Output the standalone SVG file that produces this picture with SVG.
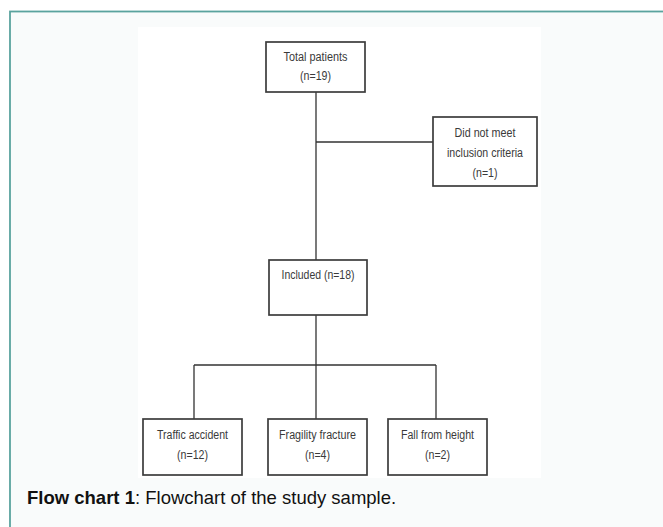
<svg xmlns="http://www.w3.org/2000/svg" width="663" height="527" viewBox="0 0 663 527">
<style>
.box{fill:#fff;stroke:#3c3c3c;stroke-width:1.7}
.lbl{font-family:"Liberation Sans",Arial,sans-serif;font-size:12.5px;fill:#3a3a3a;text-anchor:middle}
.conn{stroke:#333;stroke-width:1.3;fill:none}
.cap{font-family:"Liberation Sans",Arial,sans-serif;font-size:18.5px;fill:#111}
</style>
<rect x="0" y="0" width="663" height="527" fill="#fff"/>
<rect x="10" y="11.5" width="670" height="530" fill="#f9fbfb" stroke="#5aa39e" stroke-width="1.8"/>
<rect x="138" y="27" width="403" height="451" fill="#fff"/>
<g id="connectors">
<path class="conn" d="M316 92 V260 M316 142 H433 M316 315 V365 M194 365 H436 M194 365 V419 M316 365 V419 M436 365 V419"/>
</g>
<g id="total">
<rect class="box" x="266" y="42" width="99" height="50"/>
<text class="lbl" x="315.5" y="61" textLength="64" lengthAdjust="spacingAndGlyphs">Total patients</text>
<text class="lbl" x="315.5" y="80" textLength="31" lengthAdjust="spacingAndGlyphs">(n=19)</text>
</g>
<g id="excluded">
<rect class="box" x="433" y="117" width="104" height="69"/>
<text class="lbl" x="485" y="137" textLength="61" lengthAdjust="spacingAndGlyphs">Did not meet</text>
<text class="lbl" x="485" y="157" textLength="76" lengthAdjust="spacingAndGlyphs">inclusion criteria</text>
<text class="lbl" x="485" y="177" textLength="25" lengthAdjust="spacingAndGlyphs">(n=1)</text>
</g>
<g id="included">
<rect class="box" x="269" y="260" width="98" height="55"/>
<text class="lbl" x="318" y="279" textLength="73" lengthAdjust="spacingAndGlyphs">Included (n=18)</text>
</g>
<g id="traffic">
<rect class="box" x="143" y="419" width="99" height="56"/>
<text class="lbl" x="192.5" y="439" textLength="71" lengthAdjust="spacingAndGlyphs">Traffic accident</text>
<text class="lbl" x="192.5" y="459" textLength="31" lengthAdjust="spacingAndGlyphs">(n=12)</text>
</g>
<g id="fragility">
<rect class="box" x="268" y="419" width="99" height="56"/>
<text class="lbl" x="317.5" y="439" textLength="77" lengthAdjust="spacingAndGlyphs">Fragility fracture</text>
<text class="lbl" x="317.5" y="459" textLength="25" lengthAdjust="spacingAndGlyphs">(n=4)</text>
</g>
<g id="fall">
<rect class="box" x="388" y="419" width="99" height="56"/>
<text class="lbl" x="437.5" y="439" textLength="73" lengthAdjust="spacingAndGlyphs">Fall from height</text>
<text class="lbl" x="437.5" y="459" textLength="25" lengthAdjust="spacingAndGlyphs">(n=2)</text>
</g>
<text class="cap" x="27" y="504"><tspan font-weight="bold">Flow chart 1</tspan>: Flowchart of the study sample.</text>
</svg>
